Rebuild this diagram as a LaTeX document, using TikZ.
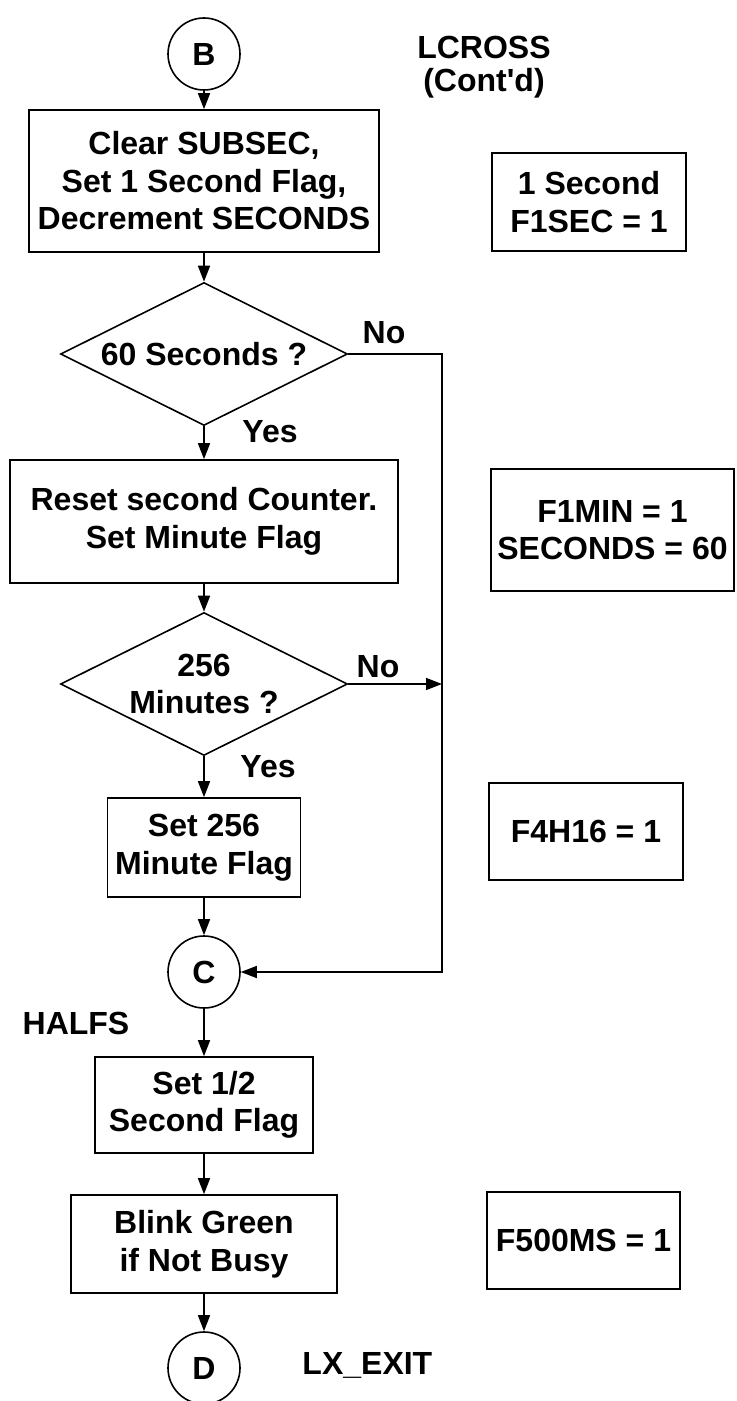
\documentclass[tikz,border=0pt]{standalone}
\usepackage{fontspec}
\setmainfont{Liberation Sans}
\usetikzlibrary{arrows.meta, shapes.geometric}

\begin{document}
\begin{tikzpicture}[x=0.5pt, y=-0.5pt, line width=0.8pt,
    every node/.style={font=\bfseries\fontsize{16}{18.75}\selectfont, align=center},
    proc/.style={draw, rectangle, inner sep=0pt},
    decision/.style={draw, diamond, aspect=2, inner sep=0pt, minimum width=143.5pt, minimum height=71.5pt},
    conn/.style={draw, circle, inner sep=0pt, minimum size=36pt},
    flow/.style={-{Triangle[length=8pt, width=6pt]}}]
  \useasboundingbox (0,0) rectangle (736,1401);
  % main column
  \node[conn] (B) at (204,54) {B};
  \node[proc, minimum width=175pt, minimum height=71pt] (clear) at (204,181) {Clear SUBSEC,\\Set 1 Second Flag,\\Decrement SECONDS};
  \node[decision] (d1) at (204,354) {60 Seconds ?};
  \node[proc, minimum width=194pt, minimum height=61.5pt] (reset) at (204,521.5) {Reset second Counter.\\Set Minute Flag};
  \node[decision] (d2) at (204,684) {256\\Minutes ?};
  \node[proc, minimum width=96.5pt, minimum height=49.5pt] (set256) at (204,847.5) {Set 256\\Minute Flag};
  \node[conn] (C) at (204,972) {C};
  \node[proc, minimum width=109pt, minimum height=48pt] (half) at (204,1105) {Set 1/2\\Second Flag};
  \node[proc, minimum width=133pt, minimum height=49pt] (blink) at (204,1244) {Blink Green\\if Not Busy};
  \node[conn] (D) at (204,1368) {D};
  \coordinate (rail) at (442,354);
  % labels
  \node (title) at (484,47) {LCROSS};
  \node (contd) at (484,83) {(Cont\textquotesingle d)};
  \node (no1) at (384,333) {No};
  \node (yes1) at (270,432) {Yes};
  \node (no2) at (378,667) {No};
  \node (yes2) at (268,767) {Yes};
  \node (halfs) at (76,1023) {HALFS};
  \node[anchor=west] (exit) at (295,1365) {LX\_EXIT};
  % flag notes
  \node[proc, minimum width=97pt, minimum height=49pt] (f1sec) at (589,202) {1 Second\\F1SEC = 1};
  \node[proc, minimum width=121.5pt, minimum height=61pt] (f1min) at (612.5,530) {F1MIN = 1\\SECONDS = 60};
  \node[proc, minimum width=97pt, minimum height=48.5pt] (f4h16) at (586,831.5) {F4H16 = 1};
  \node[proc, minimum width=96.5pt, minimum height=48.5pt] (f500) at (583.5,1240.5) {F500MS = 1};
  % connectors
  \draw[flow] (B) -- (clear);
  \draw[flow] (clear) -- (d1);
  \draw[flow] (d1) -- (reset);
  \draw[flow] (reset) -- (d2);
  \draw[flow] (d2) -- (set256);
  \draw[flow] (set256) -- (C);
  \draw[flow] (C) -- (half);
  \draw[flow] (half) -- (blink);
  \draw[flow] (blink) -- (D);
  \draw[flow] (d1.east) -- (rail) -- (rail |- C) -- (C.east);
  \draw[flow] (d2.east) -- (d2.east -| rail);
\end{tikzpicture}
\end{document}
